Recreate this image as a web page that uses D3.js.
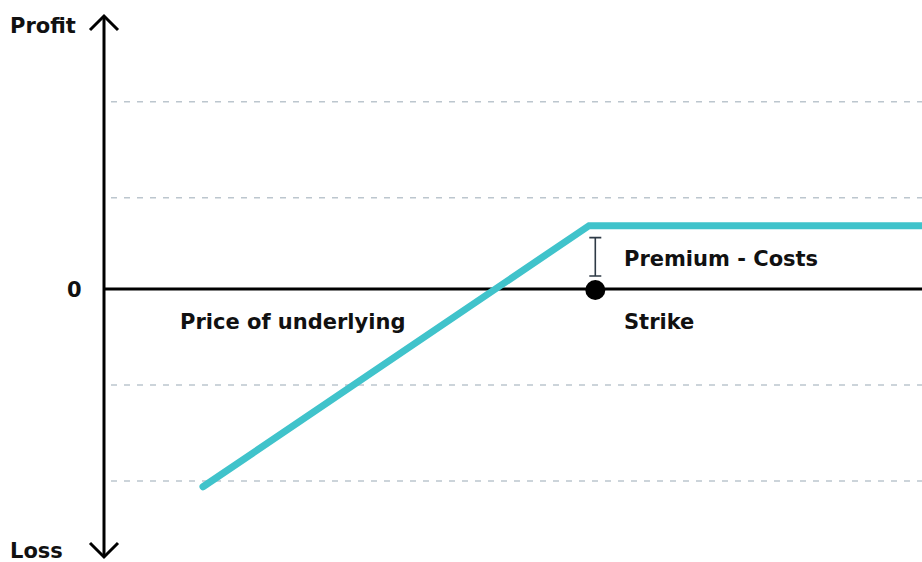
<!DOCTYPE html>
<html>
<head>
<meta charset="utf-8">
<script src="https://cdn.jsdelivr.net/npm/d3@7"></script>
<style>
  body { margin: 0; background: #fff; }
  text { font-family: "DejaVu Sans", sans-serif; font-weight: bold; fill: #111; }
</style>
</head>
<body>
<script>
const width = 922;
const height = 562;

// data
const gridLevels = [1.95, 0.95, -1, -2];
const payoffPrice = [12.1, 59.3, 100];
const payoffProfit = [-2.06, 0.66, 0.66];
const strikePrice = 60;
const premium = 0.66;
const axisLabels = ["Profit", "Loss", "0"];
const textLabels = ["Price of underlying", "Strike", "Premium - Costs"];

var lineColor = "#40c3cb";
var gridColor = "#bcc6ce";
var axisColor = "#000";
var bracketColor = "#2e3a46";

const x = d3.scaleLinear().domain([0, 100]).range([104, 922]);
const y = d3.scaleLinear().domain([0, 1]).range([289, 193]);

const svg = d3.select("body")
    .append("svg")
    .attr("width", width)
    .attr("height", height);

// dashed grid lines
svg.selectAll(".grid")
    .data(gridLevels)
    .join("line")
    .attr("class", "grid")
    .attr("x1", 111)
    .attr("x2", width)
    .attr("y1", d => y(d))
    .attr("y2", d => y(d))
    .attr("stroke", gridColor)
    .attr("stroke-width", 1.6)
    .attr("stroke-dasharray", "6,7");

// zero line
svg.append("line")
    .attr("x1", x(0))
    .attr("x2", width)
    .attr("y1", y(0))
    .attr("y2", y(0))
    .attr("stroke", axisColor)
    .attr("stroke-width", 3);

// vertical axis with arrows
const ax = x(0);
svg.append("line")
    .attr("x1", ax).attr("x2", ax)
    .attr("y1", 16).attr("y2", 557)
    .attr("stroke", axisColor)
    .attr("stroke-width", 3);

svg.append("path")
    .attr("d", `M${ax - 14},${30} L${ax},${16} L${ax + 14},${30}`)
    .attr("fill", "none")
    .attr("stroke", axisColor)
    .attr("stroke-width", 3);

svg.append("path")
    .attr("d", `M${ax - 14},${543} L${ax},${557} L${ax + 14},${543}`)
    .attr("fill", "none")
    .attr("stroke", axisColor)
    .attr("stroke-width", 3);

// payoff line
const payoff = payoffPrice.map((p, i) => ({ price: p, profit: payoffProfit[i] }));
const line = d3.line()
    .x(d => x(d.price))
    .y(d => y(d.profit));

svg.append("path")
    .datum(payoff)
    .attr("d", line)
    .attr("fill", "none")
    .attr("stroke", lineColor)
    .attr("stroke-width", 7)
    .attr("stroke-linecap", "round");

// premium bracket
const bx = x(strikePrice) + 0.5;
const by1 = y(premium) + 12;
const by2 = y(0) - 13;
svg.append("path")
    .attr("d", `M${bx - 6},${by1} H${bx + 6} M${bx},${by1} V${by2} M${bx - 6},${by2} H${bx + 6}`)
    .attr("fill", "none")
    .attr("stroke", bracketColor)
    .attr("stroke-width", 1.6);

// strike dot
svg.append("circle")
    .attr("cx", bx)
    .attr("cy", y(0) + 1)
    .attr("r", 10)
    .attr("fill", "#000");

// labels
svg.append("text").attr("x", 10).attr("y", 33).attr("font-size", 21).text(axisLabels[0]);
svg.append("text").attr("x", 10).attr("y", 558).attr("font-size", 21).text(axisLabels[1]);
svg.append("text").attr("x", 67).attr("y", 297).attr("font-size", 21).text(axisLabels[2]);

svg.append("text").attr("x", 180).attr("y", 329).attr("font-size", 21).text(textLabels[0]);
svg.append("text").attr("x", 624).attr("y", 329).attr("font-size", 21).text(textLabels[1]);
svg.append("text").attr("x", 624).attr("y", 266).attr("font-size", 21).text(textLabels[2]);
</script>
</body>
</html>
